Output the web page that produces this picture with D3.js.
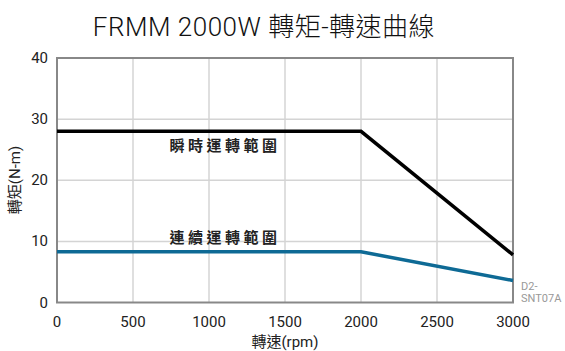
<!DOCTYPE html>
<html><head><meta charset="utf-8">
<script src="https://cdn.jsdelivr.net/npm/d3@7"></script>
<style>body{margin:0;background:#fff}svg{display:block}text{font-family:Roboto,"Noto Sans CJK TC",sans-serif}</style>
</head><body><svg id="c" width="565" height="351"></svg>
<script>
const speeds=[0,2000,3000];
const peakTorque=[28,28,7.8];
const contTorque=[8.3,8.3,3.6];
const xTicks=[0,500,1000,1500,2000,2500,3000];
const yTicks=[0,10,20,30,40];
const title="FRMM 2000W 轉矩-轉速曲線";
const svg=d3.select("#c");
const x=d3.scaleLinear().domain([0,3000]).range([57,513]);
const y=d3.scaleLinear().domain([0,40]).range([302.5,58]);
// grid
svg.append("g").selectAll("line").data(xTicks.slice(1,-1)).join("line")
 .attr("x1",d=>x(d)).attr("x2",d=>x(d)).attr("y1",y(40)).attr("y2",y(0))
 .attr("stroke","#d4d4d4").attr("stroke-width",1.5);
svg.append("g").selectAll("line").data(yTicks.slice(1,-1)).join("line")
 .attr("x1",x(0)).attr("x2",x(3000)).attr("y1",d=>y(d)).attr("y2",d=>y(d))
 .attr("stroke","#d4d4d4").attr("stroke-width",1.5);
// frame
svg.append("rect").attr("x",x(0)).attr("y",y(40)).attr("width",x(3000)-x(0)).attr("height",y(0)-y(40))
 .attr("fill","none").attr("stroke","#888").attr("stroke-width",2);
const line=d3.line().x((d,i)=>x(speeds[i])).y(d=>y(d));
svg.append("path").attr("d",line(peakTorque)).attr("fill","none").attr("stroke","#000").attr("stroke-width",3.5);
svg.append("path").attr("d",line(contTorque)).attr("fill","none").attr("stroke","#0e6a95").attr("stroke-width",3.5);
// tick labels
svg.append("g").selectAll("text").data(yTicks).join("text")
 .attr("x",48).attr("y",d=>y(d)+5).attr("text-anchor","end").attr("font-size",15).attr("fill","#222").text(d=>d);
svg.append("g").selectAll("text").data(xTicks).join("text")
 .attr("x",d=>x(d)).attr("y",327).attr("text-anchor","middle").attr("font-size",15).attr("fill","#222").text(d=>d);
svg.append("text").attr("x",285).attr("y",347).attr("text-anchor","middle").attr("font-size",15).attr("fill","#222").text("轉速(rpm)");
svg.append("text").attr("transform","translate(20,180) rotate(-90)").attr("text-anchor","middle").attr("font-size",15).attr("fill","#222").text("轉矩(N-m)");
svg.append("text").attr("x",264).attr("y",36).attr("text-anchor","middle").attr("font-size",26).attr("font-weight",300).attr("letter-spacing",0.5).attr("fill","#111").text(title);
svg.append("text").attr("x",225).attr("y",151).attr("text-anchor","middle").attr("font-size",15).attr("font-weight","bold").attr("letter-spacing",3.5).attr("fill","#222").text("瞬時運轉範圍");
svg.append("text").attr("x",225).attr("y",243).attr("text-anchor","middle").attr("font-size",15).attr("font-weight","bold").attr("letter-spacing",3.5).attr("fill","#222").text("連續運轉範圍");
svg.append("text").attr("x",521).attr("y",290).attr("font-size",11).attr("fill","#999").text("D2-");
svg.append("text").attr("x",521).attr("y",302).attr("font-size",11).attr("fill","#999").text("SNT07A");
</script></body></html>
